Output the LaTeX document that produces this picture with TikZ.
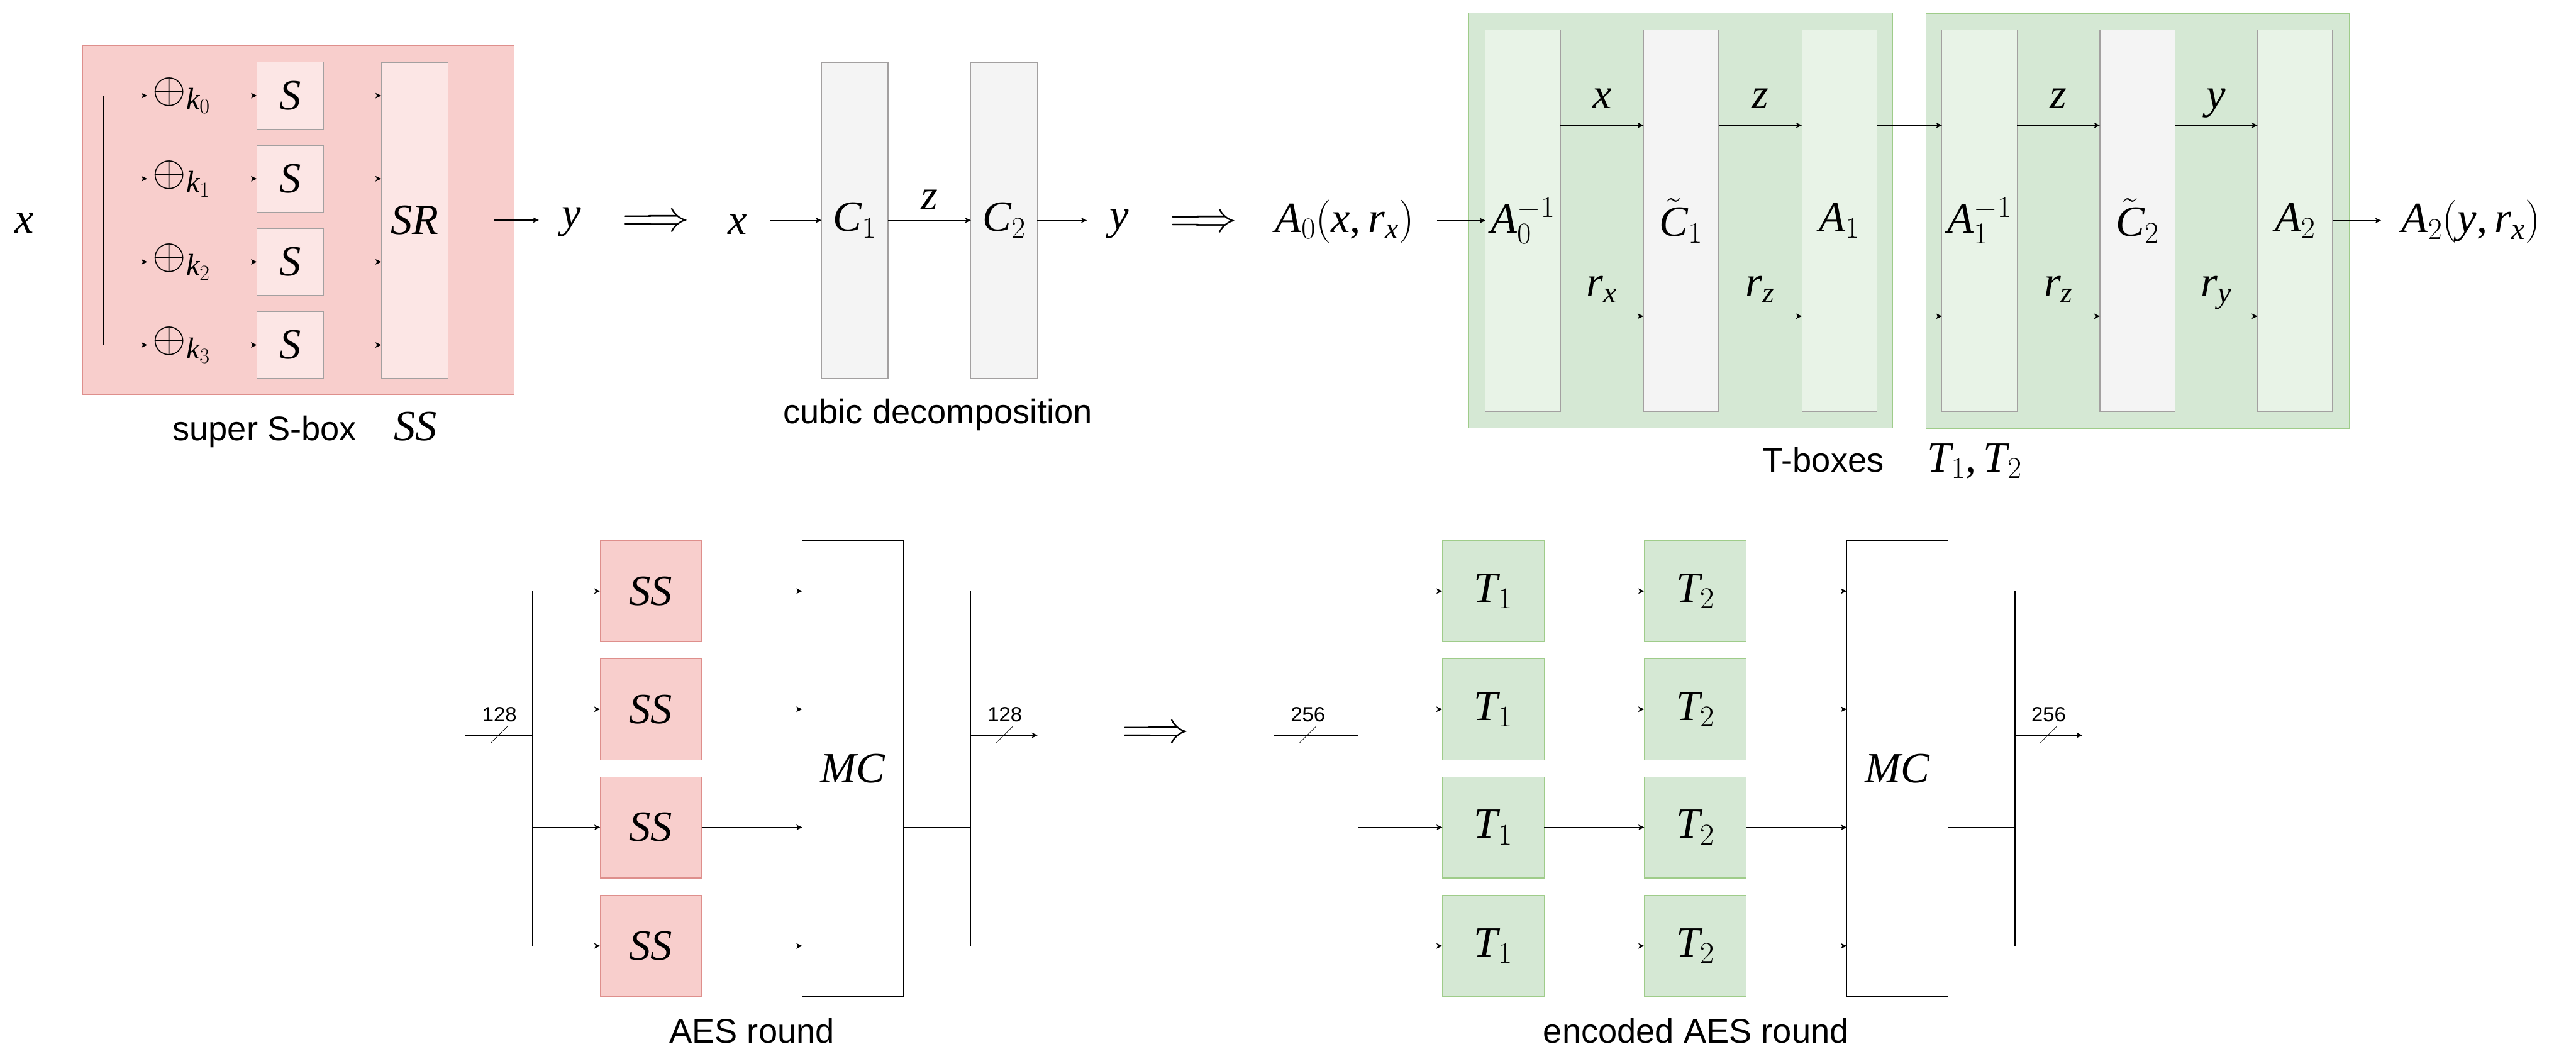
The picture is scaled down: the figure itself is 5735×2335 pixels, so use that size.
\RequirePackage{fix-cm}
\documentclass[tikz,border=0pt]{standalone}
\usepackage{fontspec}
\setsansfont{Liberation Sans}
\usetikzlibrary{arrows.meta}

% Times-like letters, digits and brackets in formulas; symbols stay Computer Modern
\newfontfamily\lserif[NFSSFamily=lsf]{Liberation Serif}
\DeclareSymbolFont{lsit}{TU}{lsf}{m}{it}
\DeclareSymbolFont{lsup}{TU}{lsf}{m}{n}
\DeclareMathSymbol{x}{\mathalpha}{lsit}{`x}
\DeclareMathSymbol{y}{\mathalpha}{lsit}{`y}
\DeclareMathSymbol{z}{\mathalpha}{lsit}{`z}
\DeclareMathSymbol{r}{\mathalpha}{lsit}{`r}
\DeclareMathSymbol{k}{\mathalpha}{lsit}{`k}
\DeclareMathSymbol{S}{\mathalpha}{lsit}{`S}
\DeclareMathSymbol{R}{\mathalpha}{lsit}{`R}
\DeclareMathSymbol{C}{\mathalpha}{lsit}{`C}
\DeclareMathSymbol{A}{\mathalpha}{lsit}{`A}
\DeclareMathSymbol{M}{\mathalpha}{lsit}{`M}
\DeclareMathSymbol{T}{\mathalpha}{lsit}{`T}
\DeclareMathSymbol{0}{\mathalpha}{lsup}{`0}
\DeclareMathSymbol{1}{\mathalpha}{lsup}{`1}
\DeclareMathSymbol{2}{\mathalpha}{lsup}{`2}
\DeclareMathSymbol{3}{\mathalpha}{lsup}{`3}
\DeclareMathSymbol{(}{\mathopen}{lsup}{`(}
\DeclareMathSymbol{)}{\mathclose}{lsup}{`)}
\DeclareMathSymbol{,}{\mathpunct}{lsup}{`,}

\definecolor{ssfill}{HTML}{F8CECC}
\definecolor{ssline}{HTML}{DE8F8C}
\definecolor{sinner}{HTML}{FCE6E5}
\definecolor{innerline}{HTML}{A3A0A0}
\definecolor{tfill}{HTML}{D5E8D4}
\definecolor{tline}{HTML}{9FCC8A}
\definecolor{ainner}{HTML}{E8F3E7}
\definecolor{cgray}{HTML}{F4F4F4}

\begin{document}
\begin{tikzpicture}[x=0.5pt, y=-0.5pt,
  every node/.style={inner sep=0pt, outer sep=0pt},
  wire/.style={line width=0.8pt},
  arr/.style={line width=0.8pt, -{Stealth[length=6.5pt, width=6pt, inset=1.6pt]}},
  slashmark/.style={line width=0.5pt},
  lab/.style={font=\fontsize{48}{58}\selectfont},
  wlab/.style={lab, text depth=0pt},
  captxt/.style={font=\sffamily\fontsize{38}{46}\selectfont, anchor=base},
  bits/.style={font=\sffamily\fontsize{23}{28}\selectfont, anchor=base},
  sbox/.style={lab, draw=innerline, fill=sinner, line width=0.8pt,
    minimum width=74pt, minimum height=74.5pt},
  cbox/.style={lab, draw=innerline, fill=cgray, line width=0.8pt,
    minimum width=74pt, minimum height=351.5pt},
  abox/.style={lab, draw=innerline, fill=ainner, line width=0.8pt,
    minimum width=83.5pt, minimum height=425pt},
  ctbox/.style={lab, draw=innerline, fill=cgray, line width=0.8pt,
    minimum width=83.5pt, minimum height=425pt},
  ssbox/.style={lab, draw=ssline, fill=ssfill, line width=0.8pt,
    minimum width=113pt, minimum height=112.5pt},
  tbox/.style={lab, draw=tline, fill=tfill, line width=0.8pt,
    minimum width=113.5pt, minimum height=112.5pt},
  mcbox/.style={lab, draw=black, fill=white, line width=0.8pt,
    minimum width=113pt, minimum height=507pt},
]
\useasboundingbox (0,0) rectangle (5735,2335);

% ---------------- super S-box ----------------
\draw[fill=ssfill, draw=ssline, line width=0.8pt] (184,102) rectangle (1145,878);
\node[lab] (sx) at (54,497) {$x$};
\coordinate (sbr) at (230,492);
\draw[wire, shorten <=25pt] (sbr -| sx.east) -- (sbr);
\node[sbox, minimum height=351.5pt] (sr) at (923,490.5) {$SR$};
\foreach \i/\r in {0/213,1/398,2/583,3/768} {
  \node[lab, anchor=west, inner xsep=6pt] (xor\i) at (328,\r) {$\oplus_{k_{\i}}$};
  \node[sbox] (s\i) at (646,\r) {$S$};
  \draw[arr] (sbr) |- (xor\i.west);
  \draw[arr] (xor\i.east) -- (s\i.west);
  \draw[arr] (s\i.east) -- (s\i.east -| sr.west);
}
\coordinate (sout) at (1100,490);
\foreach \i in {0,1,2,3} {
  \draw[wire] (s\i.east -| sr.east) -| (sout);
}
\node[lab] (sy) at (1273,495) {$y$};
\draw[arr, shorten >=26pt] (sout) -- (sout -| sy.west);
\node[captxt] (sscap) at (589,981) {super S-box};
\node[lab, anchor=base] (sssym) at (925,981) {$SS$};

% ---------------- cubic decomposition ----------------
\node[lab] (imp1) at (1460,497) {$\Longrightarrow$};
\node[lab] (cx) at (1642,499) {$x$};
\node[cbox] (c1) at (1903,490.5) {$C_1$};
\node[cbox] (c2) at (2235.5,490.5) {$C_2$};
\node[lab] (cy) at (2492,499) {$y$};
\draw[arr, shorten <=25.5pt] (c1.west -| cx.east) -- (c1.west);
\draw[arr] (c1.east) -- node[wlab, above=11.5pt] {$z$} (c2.west);
\draw[arr, shorten >=25.5pt] (c2.east) -- (c2.east -| cy.west);
\node[captxt] (ccap) at (2088,943) {cubic decomposition};

% ---------------- T-boxes ----------------
\node[lab] (imp2) at (2679,498) {$\Longrightarrow$};
\draw[fill=tfill, draw=tline, line width=0.8pt] (3270,29) rectangle (4214,953);
\draw[fill=tfill, draw=tline, line width=0.8pt] (4288,30) rectangle (5230,954);
\node[lab, anchor=east] (tin) at (3148,493) {$A_0(x,r_x)$};
\node[abox] (a0i) at (3390.5,491) {$A_0^{-1}$};
\node[ctbox] (c1t) at (3742.5,491) {$\tilde{C}_1$};
\node[abox] (a1) at (4095,491) {$A_1$};
\node[abox] (a1i) at (4407,491) {$A_1^{-1}$};
\node[ctbox] (c2t) at (4758.5,491) {$\tilde{C}_2$};
\node[abox] (a2) at (5109.5,491) {$A_2$};
\node[lab, anchor=west] (tout) at (5347,494) {$A_2(y,r_x)$};
\draw[arr, shorten <=25.5pt] (a0i.west -| tin.east) -- (a0i.west);
\draw[arr, shorten >=23pt] (a2.east) -- (a2.east -| tout.west);
\coordinate (trowt) at (0,279);
\coordinate (trowb) at (0,704);
\foreach \p/\q/\u/\v in {a0i/c1t/x/r_x, c1t/a1/z/r_z, a1i/c2t/z/r_z, c2t/a2/y/r_y} {
  \draw[arr] (\p.east |- trowt) -- node[wlab, above=18.5pt] {$\u$} (\q.west |- trowt);
  \draw[arr] (\p.east |- trowb) -- node[wlab, above=22pt] {$\v$} (\q.west |- trowb);
}
\draw[arr] (a1.east |- trowt) -- (a1i.west |- trowt);
\draw[arr] (a1.east |- trowb) -- (a1i.west |- trowb);
\node[captxt] (tcap) at (4059,1051) {T-boxes};
\node[lab, anchor=base] (tsym) at (4396,1051) {$T_1,T_2$};

% ---------------- AES round ----------------
\coordinate (ain) at (1036,1637);
\coordinate (abr) at (1186,1637);
\draw[wire] (ain) -- (abr);
\coordinate (aslin) at (1112,1637);
\draw[slashmark] ([shift={(-19,17)}]aslin) -- ([shift={(18,-20)}]aslin);
\node[bits] (abitsin) at (1112,1607) {128};
\node[mcbox] (mc1) at (1899,1711) {$MC$};
\foreach \i/\r in {0/1316,1/1579,2/1842,3/2106} {
  \node[ssbox] (ss\i) at (1449,\r) {$SS$};
  \draw[arr] (abr) |- (ss\i.west);
  \draw[arr] (ss\i.east) -- (ss\i.east -| mc1.west);
}
\coordinate (aout) at (2161,1637);
\foreach \i in {0,1,2,3} {
  \draw[wire] (ss\i.east -| mc1.east) -| (aout);
}
\coordinate (aend) at (2310,1637);
\draw[arr] (aout) -- (aend);
\coordinate (aslout) at (2237,1637);
\draw[slashmark] ([shift={(-19,17)}]aslout) -- ([shift={(18,-20)}]aslout);
\node[bits] (abitsout) at (2237,1607) {128};
\node[captxt] (acap) at (1674,2322) {AES round};

\node[lab] (imp3) at (2573,1635) {$\Longrightarrow$};

% ---------------- encoded AES round ----------------
\coordinate (ein) at (2836,1637);
\coordinate (ebr) at (3024,1637);
\draw[wire] (ein) -- (ebr);
\coordinate (eslin) at (2912,1637);
\draw[slashmark] ([shift={(-19,17)}]eslin) -- ([shift={(18,-20)}]eslin);
\node[bits] (ebitsin) at (2912,1607) {256};
\node[mcbox] (mc2) at (4224.5,1711) {$MC$};
\foreach \i/\r in {0/1316,1/1579,2/1842,3/2106} {
  \node[tbox] (ta\i) at (3324.5,\r) {$T_1$};
  \node[tbox] (tb\i) at (3774,\r) {$T_2$};
  \draw[arr] (ebr) |- (ta\i.west);
  \draw[arr] (ta\i.east) -- (tb\i.west);
  \draw[arr] (tb\i.east) -- (tb\i.east -| mc2.west);
}
\coordinate (eout) at (4486,1637);
\foreach \i in {0,1,2,3} {
  \draw[wire] (tb\i.east -| mc2.east) -| (eout);
}
\coordinate (eend) at (4636,1637);
\draw[arr] (eout) -- (eend);
\coordinate (eslout) at (4561,1637);
\draw[slashmark] ([shift={(-19,17)}]eslout) -- ([shift={(18,-20)}]eslout);
\node[bits] (ebitsout) at (4561,1607) {256};
\node[captxt] (ecap) at (3776,2322) {encoded AES round};
\end{tikzpicture}
\end{document}
